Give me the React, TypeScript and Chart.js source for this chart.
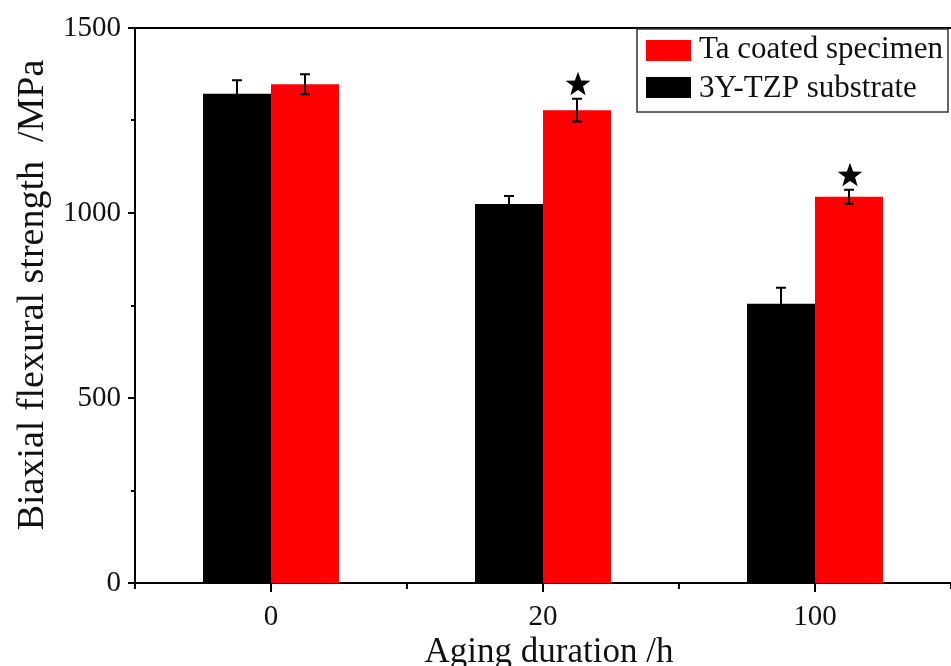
import React, { useEffect, useRef } from 'react';
import { Chart, registerables } from 'chart.js';

Chart.register(...registerables);

const categories = ['0', '20', '100'];
const substrateValues = [1322, 1024, 755];
const substrateErrors = [37, 22, 43];
const coatedValues = [1348, 1278, 1044];
const coatedErrors = [27, 31, 19];
const coatedSignificant = [false, true, true];
const yMajorTicks = [0, 500, 1000, 1500];
const yMinorTicks = [250, 750, 1250];
const seriesLabels = ['3Y-TZP substrate', 'Ta coated specimen'];
const seriesColors = ['#000000', '#ff0000'];
const xTitle = 'Aging duration /h';
const yTitle = 'Biaxial flexural strength  /MPa';

const SERIF = '"Liberation Serif", "Times New Roman", serif';

const errorBarPlugin = {
  id: 'errorBars',
  afterDatasetsDraw(chart: any) {
    const ctx = chart.ctx;
    const y = chart.scales.y;
    const errs = [substrateErrors, coatedErrors];
    const vals = [substrateValues, coatedValues];
    ctx.save();
    ctx.strokeStyle = '#000';
    ctx.lineWidth = 2;
    for (let d = 0; d < 2; d++) {
      const meta = chart.getDatasetMeta(d);
      meta.data.forEach((el: any, i: number) => {
        const x = Math.round(el.x);
        const top = y.getPixelForValue(vals[d][i] + errs[d][i]);
        const bot = y.getPixelForValue(vals[d][i] - errs[d][i]);
        ctx.beginPath();
        ctx.moveTo(x, top);
        ctx.lineTo(x, bot);
        ctx.moveTo(x - 5, top);
        ctx.lineTo(x + 5, top);
        ctx.moveTo(x - 5, bot);
        ctx.lineTo(x + 5, bot);
        ctx.stroke();
      });
    }
    // significance stars on coated bars
    const meta = chart.getDatasetMeta(1);
    ctx.fillStyle = '#000';
    meta.data.forEach((el: any, i: number) => {
      if (!coatedSignificant[i]) return;
      const top = y.getPixelForValue(coatedValues[i] + coatedErrors[i]);
      const cx = el.x + 1;
      const cy = top - 14;
      const R = 13;
      const r = 5.3;
      ctx.beginPath();
      for (let k = 0; k < 10; k++) {
        const rad = k % 2 === 0 ? R : r;
        const a = -Math.PI / 2 + (k * Math.PI) / 5;
        const px = cx + rad * Math.cos(a);
        const py = cy + rad * Math.sin(a);
        if (k === 0) ctx.moveTo(px, py);
        else ctx.lineTo(px, py);
      }
      ctx.closePath();
      ctx.fill();
    });
    ctx.restore();
  },
};

const framePlugin = {
  id: 'frame',
  afterDraw(chart: any) {
    const ctx = chart.ctx;
    const { left, right, top, bottom } = chart.chartArea;
    const x = chart.scales.x;
    const y = chart.scales.y;
    ctx.save();
    ctx.strokeStyle = '#000';
    ctx.lineWidth = 2;
    // top frame line
    ctx.beginPath();
    ctx.moveTo(left - 1, top);
    ctx.lineTo(right, top);
    ctx.stroke();
    // y ticks
    ctx.beginPath();
    yMajorTicks.forEach((v) => {
      const py = Math.round(y.getPixelForValue(v));
      ctx.moveTo(left, py);
      ctx.lineTo(left - 7, py);
    });
    yMinorTicks.forEach((v) => {
      const py = Math.round(y.getPixelForValue(v));
      ctx.moveTo(left, py);
      ctx.lineTo(left - 4, py);
    });
    // x ticks
    const n = categories.length;
    const w = (right - left) / n;
    for (let i = 0; i < n; i++) {
      const px = Math.round(x.getPixelForValue(i));
      ctx.moveTo(px, bottom);
      ctx.lineTo(px, bottom + 9);
    }
    for (let i = 0; i <= n; i++) {
      const px = Math.round(left + i * w);
      ctx.moveTo(px, bottom);
      ctx.lineTo(px, bottom + 6);
    }
    ctx.stroke();

    // axis titles
    ctx.fillStyle = '#111';
    ctx.font = `35px ${SERIF}`;
    ctx.textAlign = 'center';
    ctx.textBaseline = 'alphabetic';
    ctx.fillText(xTitle, (left + right) / 2 + 6, 662);
    ctx.save();
    ctx.translate(43, 295);
    ctx.rotate(-Math.PI / 2);
    ctx.font = `38px ${SERIF}`;
    ctx.fillText(yTitle, 0, 0);
    ctx.restore();

    // legend
    const bx = 637, by = 29, bw = 311, bh = 83;
    ctx.lineWidth = 1.5;
    ctx.strokeStyle = '#333';
    ctx.strokeRect(bx, by, bw, bh);
    ctx.font = `31px ${SERIF}`;
    ctx.textAlign = 'left';
    const ds = chart.data.datasets.slice().reverse();
    const swatchTops = [40, 77];
    const baselines = [58, 97];
    ds.forEach((d: any, i: number) => {
      ctx.fillStyle = d.backgroundColor;
      ctx.fillRect(646, swatchTops[i], 45, 21);
      ctx.fillStyle = '#111';
      ctx.fillText(d.label, 699, baselines[i]);
    });
    ctx.restore();
  },
};

export default function App() {
  const ref = useRef<HTMLCanvasElement | null>(null);
  useEffect(() => {
    document.body.style.margin = '0';
    const canvas = ref.current!;
    const chart = new Chart(canvas, {
      type: 'bar',
      data: {
        labels: categories,
        datasets: [
          {
            label: seriesLabels[0],
            data: substrateValues,
            backgroundColor: seriesColors[0],
            borderWidth: 0,
          },
          {
            label: seriesLabels[1],
            data: coatedValues,
            backgroundColor: seriesColors[1],
            borderWidth: 0,
          },
        ],
      },
      options: {
        animation: false,
        responsive: false,
        devicePixelRatio: 1,
        layout: { padding: { top: 28, left: 0, right: 0, bottom: 0 } },
        datasets: { bar: { categoryPercentage: 0.5, barPercentage: 1 } },
        plugins: { legend: { display: false }, tooltip: { enabled: false } },
        scales: {
          x: {
            grid: { display: false, drawTicks: false },
            border: { display: true, color: '#000', width: 2 },
            ticks: { font: { family: SERIF, size: 29 }, color: '#111', padding: 17 },
            afterFit: (s: any) => {
              s.height = 83;
              s.paddingLeft = 0;
              s.paddingRight = 0;
            },
          },
          y: {
            min: 0,
            max: 1500,
            grid: { display: false, drawTicks: false },
            border: { display: true, color: '#000', width: 2 },
            ticks: {
              stepSize: 500,
              font: { family: SERIF, size: 29 },
              color: '#111',
              padding: 14,
              callback: (v: any) => String(v),
            },
            afterFit: (s: any) => {
              s.width = 135;
              s.paddingTop = 0;
              s.paddingBottom = 0;
            },
          },
        },
      },
      plugins: [errorBarPlugin, framePlugin],
    });
    return () => chart.destroy();
  }, []);
  return (
    <div style={{ width: 951, height: 666, overflow: 'hidden' }}>
      <canvas ref={ref} width={951} height={666} style={{ display: 'block' }} />
    </div>
  );
}
